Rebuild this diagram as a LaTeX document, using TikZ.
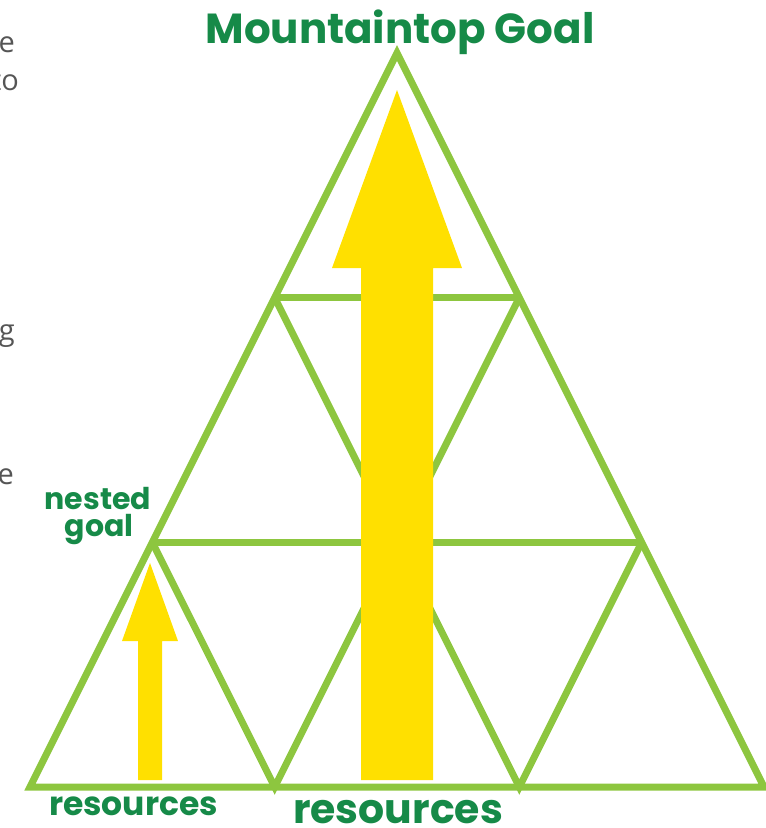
\documentclass[tikz,border=0pt]{standalone}
\usepackage{fontspec}
\setmainfont{Poppins}
\newfontfamily\sidefont{Open Sans}
\definecolor{gridgreen}{RGB}{141,198,63}
\definecolor{textgreen}{RGB}{22,138,72}
\definecolor{arrowyellow}{RGB}{255,224,0}
\definecolor{sidegray}{RGB}{85,85,85}
\begin{document}
\begin{tikzpicture}[x=1pt,y=-1pt,
  gridline/.style={draw=gridgreen,line width=7pt},
  arrowfill/.style={fill=arrowyellow,draw=none},
  greenlabel/.style={text=textgreen,font=\bfseries,inner sep=0pt},
  sidetext/.style={text=sidegray,font=\sidefont\fontsize{29}{30}\selectfont,inner sep=0pt,anchor=base east}]
\useasboundingbox (0,0) rectangle (766,828);
% grid points
\coordinate (A) at (397,53);
\coordinate (L1) at (274.7,297.7);
\coordinate (R1) at (519.3,297.7);
\coordinate (L2) at (152.3,542.3);
\coordinate (M2) at (397,542.3);
\coordinate (R2) at (641.7,542.3);
\coordinate (B0) at (30,787);
\coordinate (B1) at (274.7,787);
\coordinate (B2) at (519.3,787);
\coordinate (B3) at (764,787);
% grid
\draw[gridline] (A) -- (B0) -- (B3) -- cycle;
\draw[gridline] (L1) -- (R1);
\draw[gridline] (L2) -- (R2);
\draw[gridline] (L1) -- (M2) -- (R1);
\draw[gridline] (L2) -- (B1) -- (M2) -- (B2) -- (R2);
% big arrow
\fill[arrowfill] (397,90) -- (462,268) -- (433,268) -- (433,780) -- (361,780) -- (361,268) -- (332,268) -- cycle;
% small arrow
\fill[arrowfill] (150,563) -- (178,641) -- (162,641) -- (162,780) -- (138,780) -- (138,641) -- (122,641) -- cycle;
% labels
\node[greenlabel,font=\bfseries\fontsize{42}{42}\selectfont,anchor=base] (title) at (400,43) {Mountaintop Goal};
\node[greenlabel,font=\bfseries\fontsize{41}{41}\selectfont,anchor=base] (res1) at (398,823) {resources};
\node[greenlabel,font=\bfseries\fontsize{33}{33}\selectfont,anchor=base] (res2) at (133.5,815) {resources};
\node[greenlabel,font=\bfseries\fontsize{30}{30}\selectfont,anchor=base] (nested) at (98,509) {nested};
\node[greenlabel,font=\bfseries\fontsize{30}{30}\selectfont,anchor=base] (goal) at (99,536) {goal};
% cut-off side text
\node[sidetext] (s1) at (15,52) {e};
\node[sidetext] (s2) at (19,90) {to};
\node[sidetext] (s3) at (15,340) {g};
\node[sidetext] (s4) at (14,484) {e};
\end{tikzpicture}
\end{document}
